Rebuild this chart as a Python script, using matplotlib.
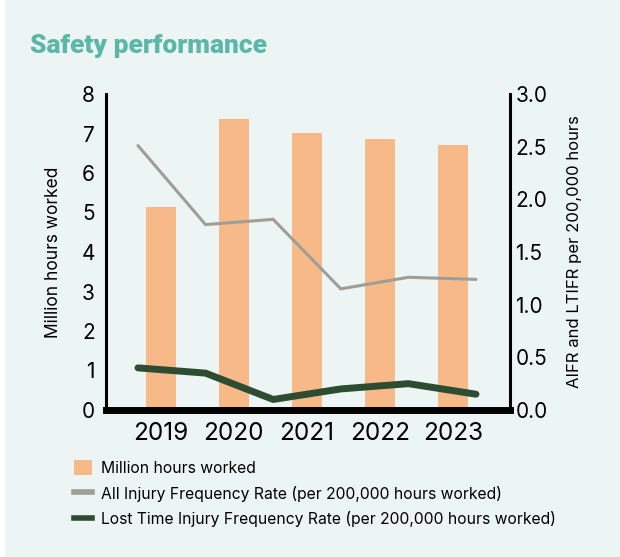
import matplotlib
matplotlib.use("Agg")
import matplotlib.pyplot as plt
from matplotlib.patches import Patch, FancyBboxPatch
from matplotlib.lines import Line2D

plt.rcParams['font.family'] = ['Inter', 'DejaVu Sans']

years = ["2019", "2020", "2021", "2022", "2023"]
hours_million = [5.14, 7.37, 7.01, 6.86, 6.71]

# frequency rates are plotted on their own evenly spaced track of six points
aifr = [2.51, 1.76, 1.81, 1.15, 1.26, 1.24]
ltifr = [0.40, 0.35, 0.10, 0.20, 0.25, 0.15]

left_ticks = [0, 1, 2, 3, 4, 5, 6, 7, 8]
right_ticks = [0.0, 0.5, 1.0, 1.5, 2.0, 2.5, 3.0]

BG = "#ecf5f3"
BAR = "#f6b987"
GREY = "#a09d97"
GREEN = "#2d4c32"
TEAL = "#5bb7a8"

fig = plt.figure(figsize=(6.2, 5.57), dpi=100)
fig.patch.set_facecolor("white")
fig.patches.append(FancyBboxPatch((5 / 620, 0.0), 1 - 5 / 620, 1.0,
                                  boxstyle="square,pad=0", transform=fig.transFigure,
                                  facecolor=BG, edgecolor="none", zorder=-10))

ax = fig.add_axes([106 / 620, 147 / 557, 404 / 620, 316 / 557])
ax.set_facecolor("none")
xs = range(len(years))
ax.bar(xs, hours_million, width=0.41, color=BAR, zorder=1)
ax.set_xlim(-0.75, 4.78)
ax.set_ylim(0, 8)
ax.set_yticks(left_ticks)
ax.set_yticklabels([str(t) for t in left_ticks], fontsize=15)
ax.set_xticks(list(xs))
ax.set_xticklabels(years, fontsize=17.5)
ax.tick_params(axis="y", length=0, pad=8)
ax.tick_params(axis="x", length=0, pad=9)
ax.set_ylabel("Million hours worked", fontsize=12.5, labelpad=14)

ax2 = ax.twinx()
ax2.set_ylim(0, 3)
ax2.set_yticks(right_ticks)
ax2.set_yticklabels([f"{t:.1f}" for t in right_ticks], fontsize=15)
ax2.tick_params(axis="y", length=0, pad=4)
ax2.set_ylabel("AIFR and LTIFR per 200,000 hours", fontsize=12, labelpad=14)

ax3 = ax2.twiny()
ax3.set_xlim(-0.473, 5.503)
ax3.set_xticks([])
for s in ax3.spines.values():
    s.set_visible(False)
pts = range(len(aifr))
ax3.plot(pts, aifr, color=GREY, lw=2.2, solid_capstyle="round", solid_joinstyle="miter", zorder=3)
ax3.plot(pts, ltifr, color=GREEN, lw=5, solid_capstyle="round", solid_joinstyle="round", zorder=3)

for a in (ax, ax2):
    a.spines["top"].set_visible(False)
ax.spines["right"].set_visible(False)
ax2.spines["left"].set_visible(False)
ax2.spines["bottom"].set_visible(False)
ax.spines["left"].set_linewidth(2.2)
ax2.spines["right"].set_linewidth(2.2)
ax.spines["bottom"].set_linewidth(5)
ax.spines["bottom"].set_capstyle("projecting")

fig.text(30 / 620, 1 - 53 / 557, "Safety performance", fontsize=19, fontweight=900,
         family=["Roboto", "DejaVu Sans"], color=TEAL, ha="left", va="baseline")

handles = [
    Patch(facecolor=BAR, edgecolor="none"),
    Line2D([0], [0], color=GREY, lw=4),
    Line2D([0], [0], color=GREEN, lw=4),
]
labels = [
    "Million hours worked",
    "All Injury Frequency Rate (per 200,000 hours worked)",
    "Lost Time Injury Frequency Rate (per 200,000 hours worked)",
]
fig.legend(handles, labels, loc="upper left", bbox_to_anchor=(68 / 620, 1 - 454 / 557),
           frameon=False, fontsize=11.3, handlelength=1.1, handleheight=1.1,
           handletextpad=0.6, labelspacing=0.6, borderaxespad=0)

fig.savefig("out.png", dpi=100, facecolor=fig.get_facecolor())
